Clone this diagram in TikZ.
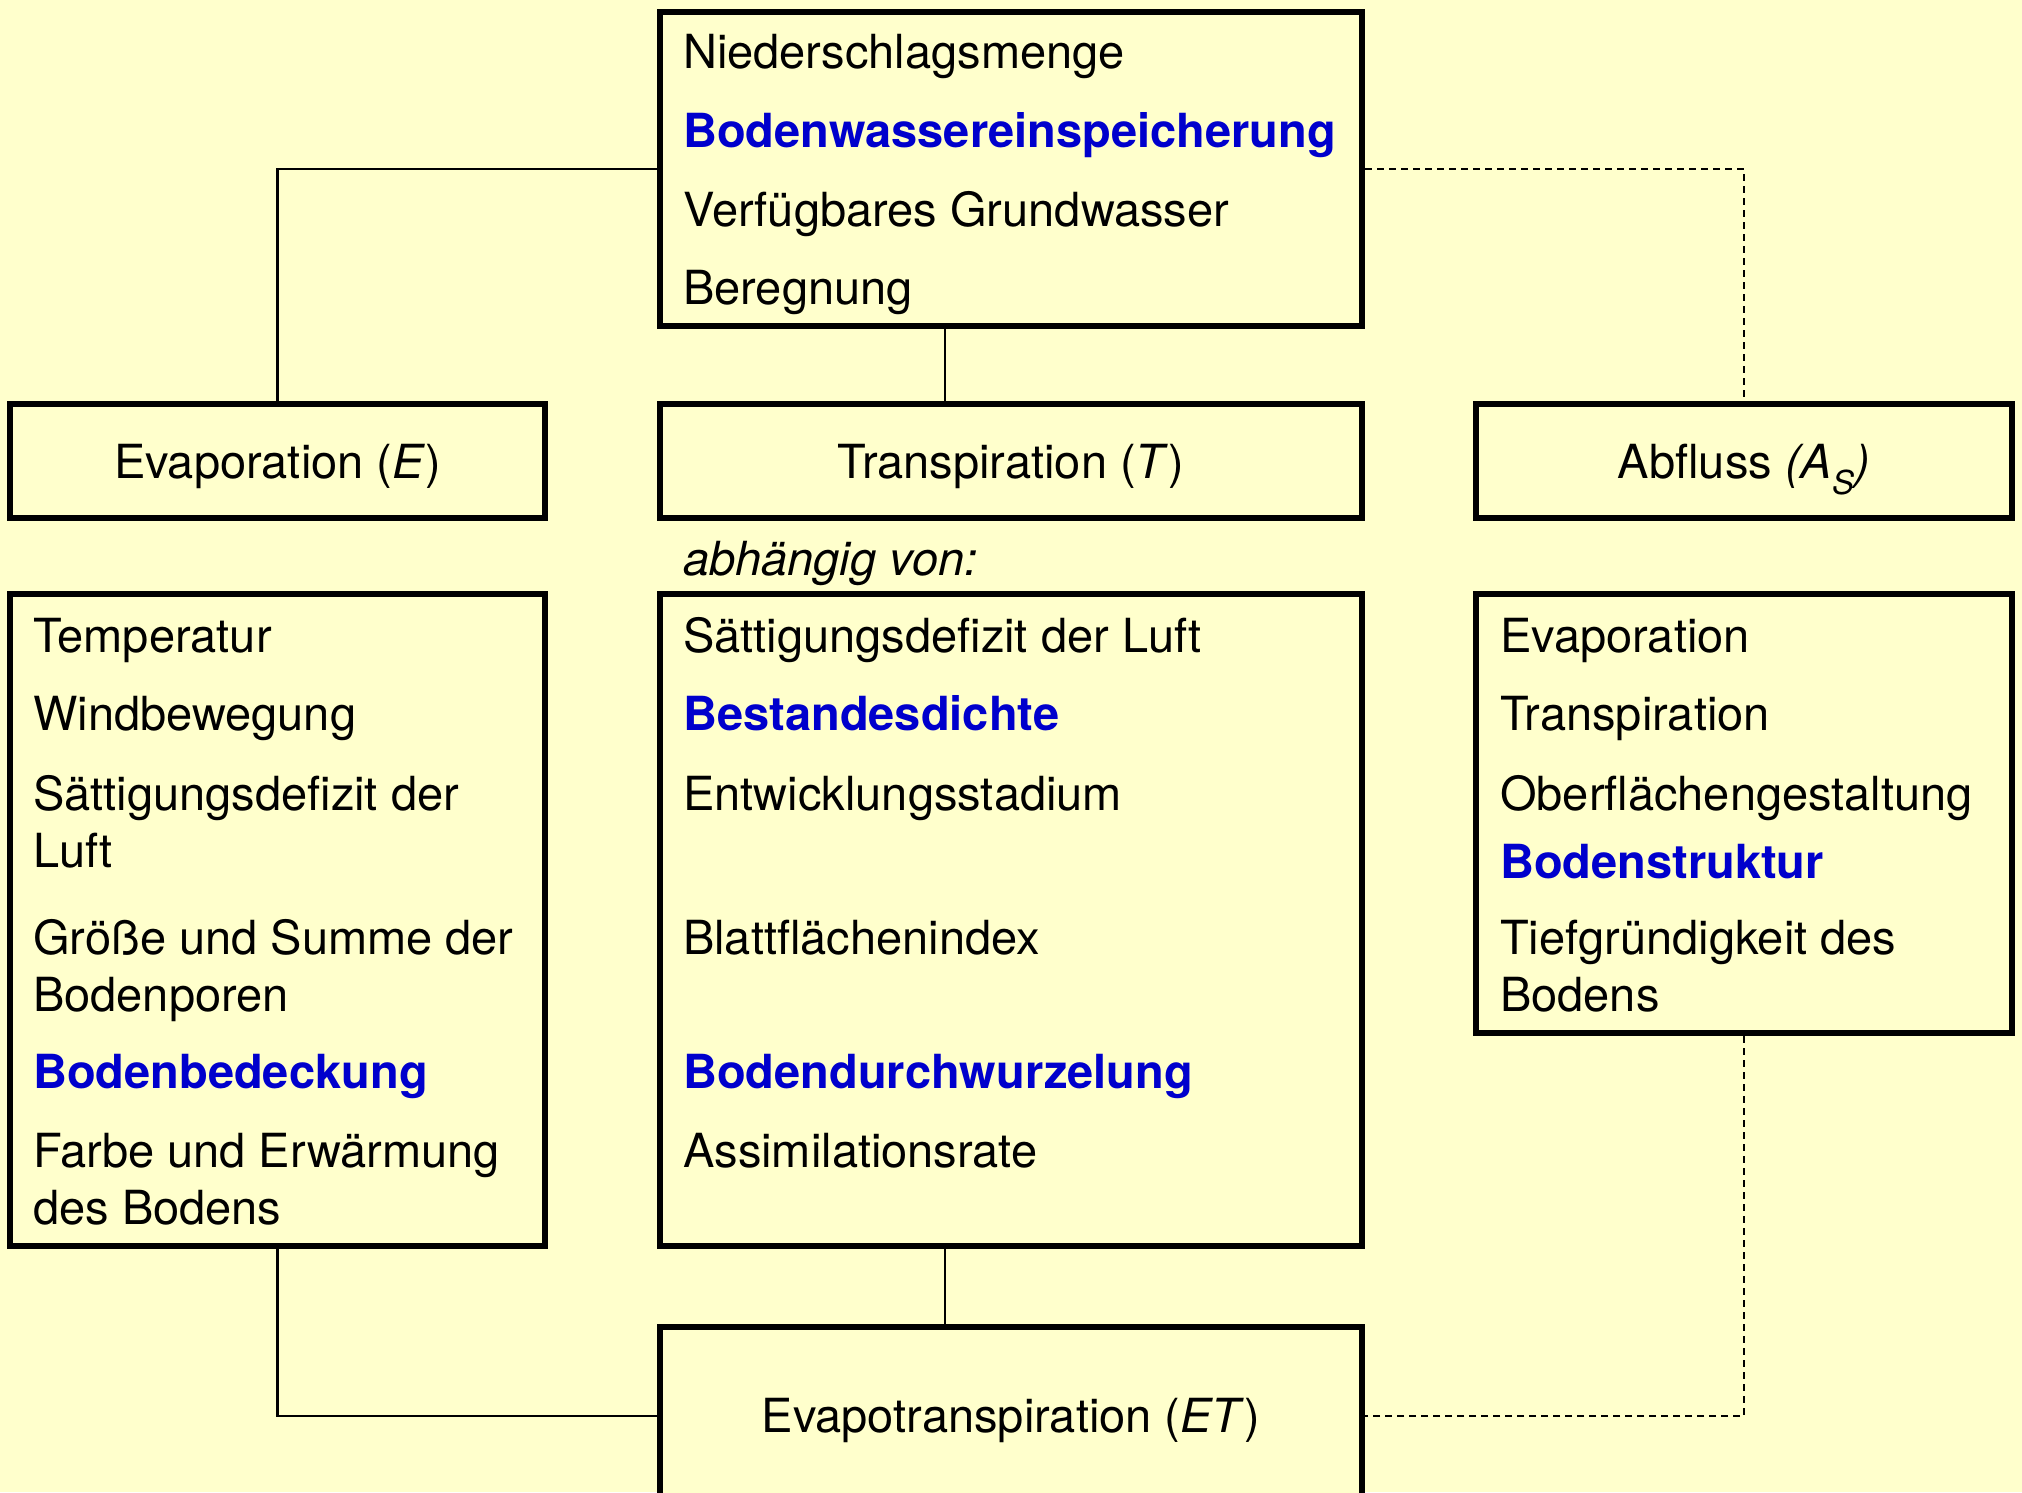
\documentclass[tikz,border=0pt]{standalone}
\usepackage{fontspec}
\setmainfont{TeX Gyre Heros}
\definecolor{bg}{HTML}{FFFFCC}
\definecolor{hl}{HTML}{0000CC}
\begin{document}
\begin{tikzpicture}[x=1pt,y=-1pt,
  box/.style={draw=black,line width=6pt,fill=bg,rectangle,inner sep=0pt},
  conn/.style={draw=black,line width=2.4pt},
  dconn/.style={draw=black,line width=2pt,dash pattern=on 7pt off 5pt},
  txt/.style={anchor=base west,inner sep=0pt,font=\fontsize{47}{56}\selectfont},
  ctxt/.style={anchor=base,inner sep=0pt,font=\fontsize{47}{56}\selectfont},
  hi/.style={text=hl,font=\fontsize{47}{56}\selectfont\bfseries}]
\clip (0,0) rectangle (2022,1492);
\fill[bg] (0,0) rectangle (2022,1492);
\useasboundingbox (0,0) rectangle (2022,1492);
\coordinate (mx) at (945,0);
% boxes
\node[box,minimum width=702,minimum height=314] (top) at (1011,169) {};
\node[box,minimum width=535,minimum height=114] (evap) at (277.5,461) {};
\node[box,minimum width=702,minimum height=114] (transp) at (1011,461) {};
\node[box,minimum width=536,minimum height=114] (abfl) at (1744,461) {};
\node[box,minimum width=535,minimum height=652] (leftlist) at (277.5,920) {};
\node[box,minimum width=702,minimum height=652] (midlist) at (1011,920) {};
\node[box,minimum width=536,minimum height=439] (rightlist) at (1744,813.5) {};
\node[box,minimum width=702,minimum height=178] (et) at (1011,1416) {};
% connectors
\draw[conn] (top.west) -| (evap.north);
\draw[conn] (top.south -| mx) -- (transp.north -| mx);
\draw[dconn] (top.east) -| (abfl.north);
\draw[conn] (leftlist.south) |- (et.west);
\draw[conn] (midlist.south -| mx) -- (et.north -| mx);
\draw[dconn] (rightlist.south) |- (et.east);
% top box text
\node[txt] (t1) at (683,68) {Niederschlagsmenge};
\node[txt,hi] (t2) at (683,147) {Bodenwassereinspeicherung};
\node[txt] (t3) at (683,226) {Verfügbares Grundwasser};
\node[txt] (t4) at (683,304) {Beregnung};
% titles
\node[ctxt] (le) at (277.5,478) {Evaporation (\textit{E})};
\node[ctxt] (lt) at (1011,478) {Transpiration (\textit{T})};
\node[ctxt] (la) at (1744,478) {Abfluss \textit{(A\textsubscript{S})}};
\node[txt,font=\fontsize{47}{56}\selectfont\itshape] (abh) at (683,575) {abhängig von:};
% left list
\node[txt] (l1) at (33,652) {Temperatur};
\node[txt] (l2) at (33,730) {Windbewegung};
\node[txt] (l3) at (33,810) {Sättigungsdefizit der};
\node[txt] (l4) at (33,867) {Luft};
\node[txt] (l5) at (33,954) {Größe und Summe der};
\node[txt] (l6) at (33,1011) {Bodenporen};
\node[txt,hi] (l7) at (33,1088) {Bodenbedeckung};
\node[txt] (l8) at (33,1167) {Farbe und Erwärmung};
\node[txt] (l9) at (33,1224) {des Bodens};
% middle list
\node[txt] (m1) at (683,652) {Sättigungsdefizit der Luft};
\node[txt,hi] (m2) at (683,730) {Bestandesdichte};
\node[txt] (m3) at (683,810) {Entwicklungsstadium};
\node[txt] (m4) at (683,954) {Blattflächenindex};
\node[txt,hi] (m5) at (683,1088) {Bodendurchwurzelung};
\node[txt] (m6) at (683,1167) {Assimilationsrate};
% right list
\node[txt] (r1) at (1500,652) {Evaporation};
\node[txt] (r2) at (1500,730) {Transpiration};
\node[txt] (r3) at (1500,810) {Oberflächengestaltung};
\node[txt,hi] (r4) at (1500,878) {Bodenstruktur};
\node[txt] (r5) at (1500,954) {Tiefgründigkeit des};
\node[txt] (r6) at (1500,1011) {Bodens};
% bottom
\node[ctxt] (let) at (1011,1432) {Evapotranspiration (\textit{ET})};
\end{tikzpicture}
\end{document}
